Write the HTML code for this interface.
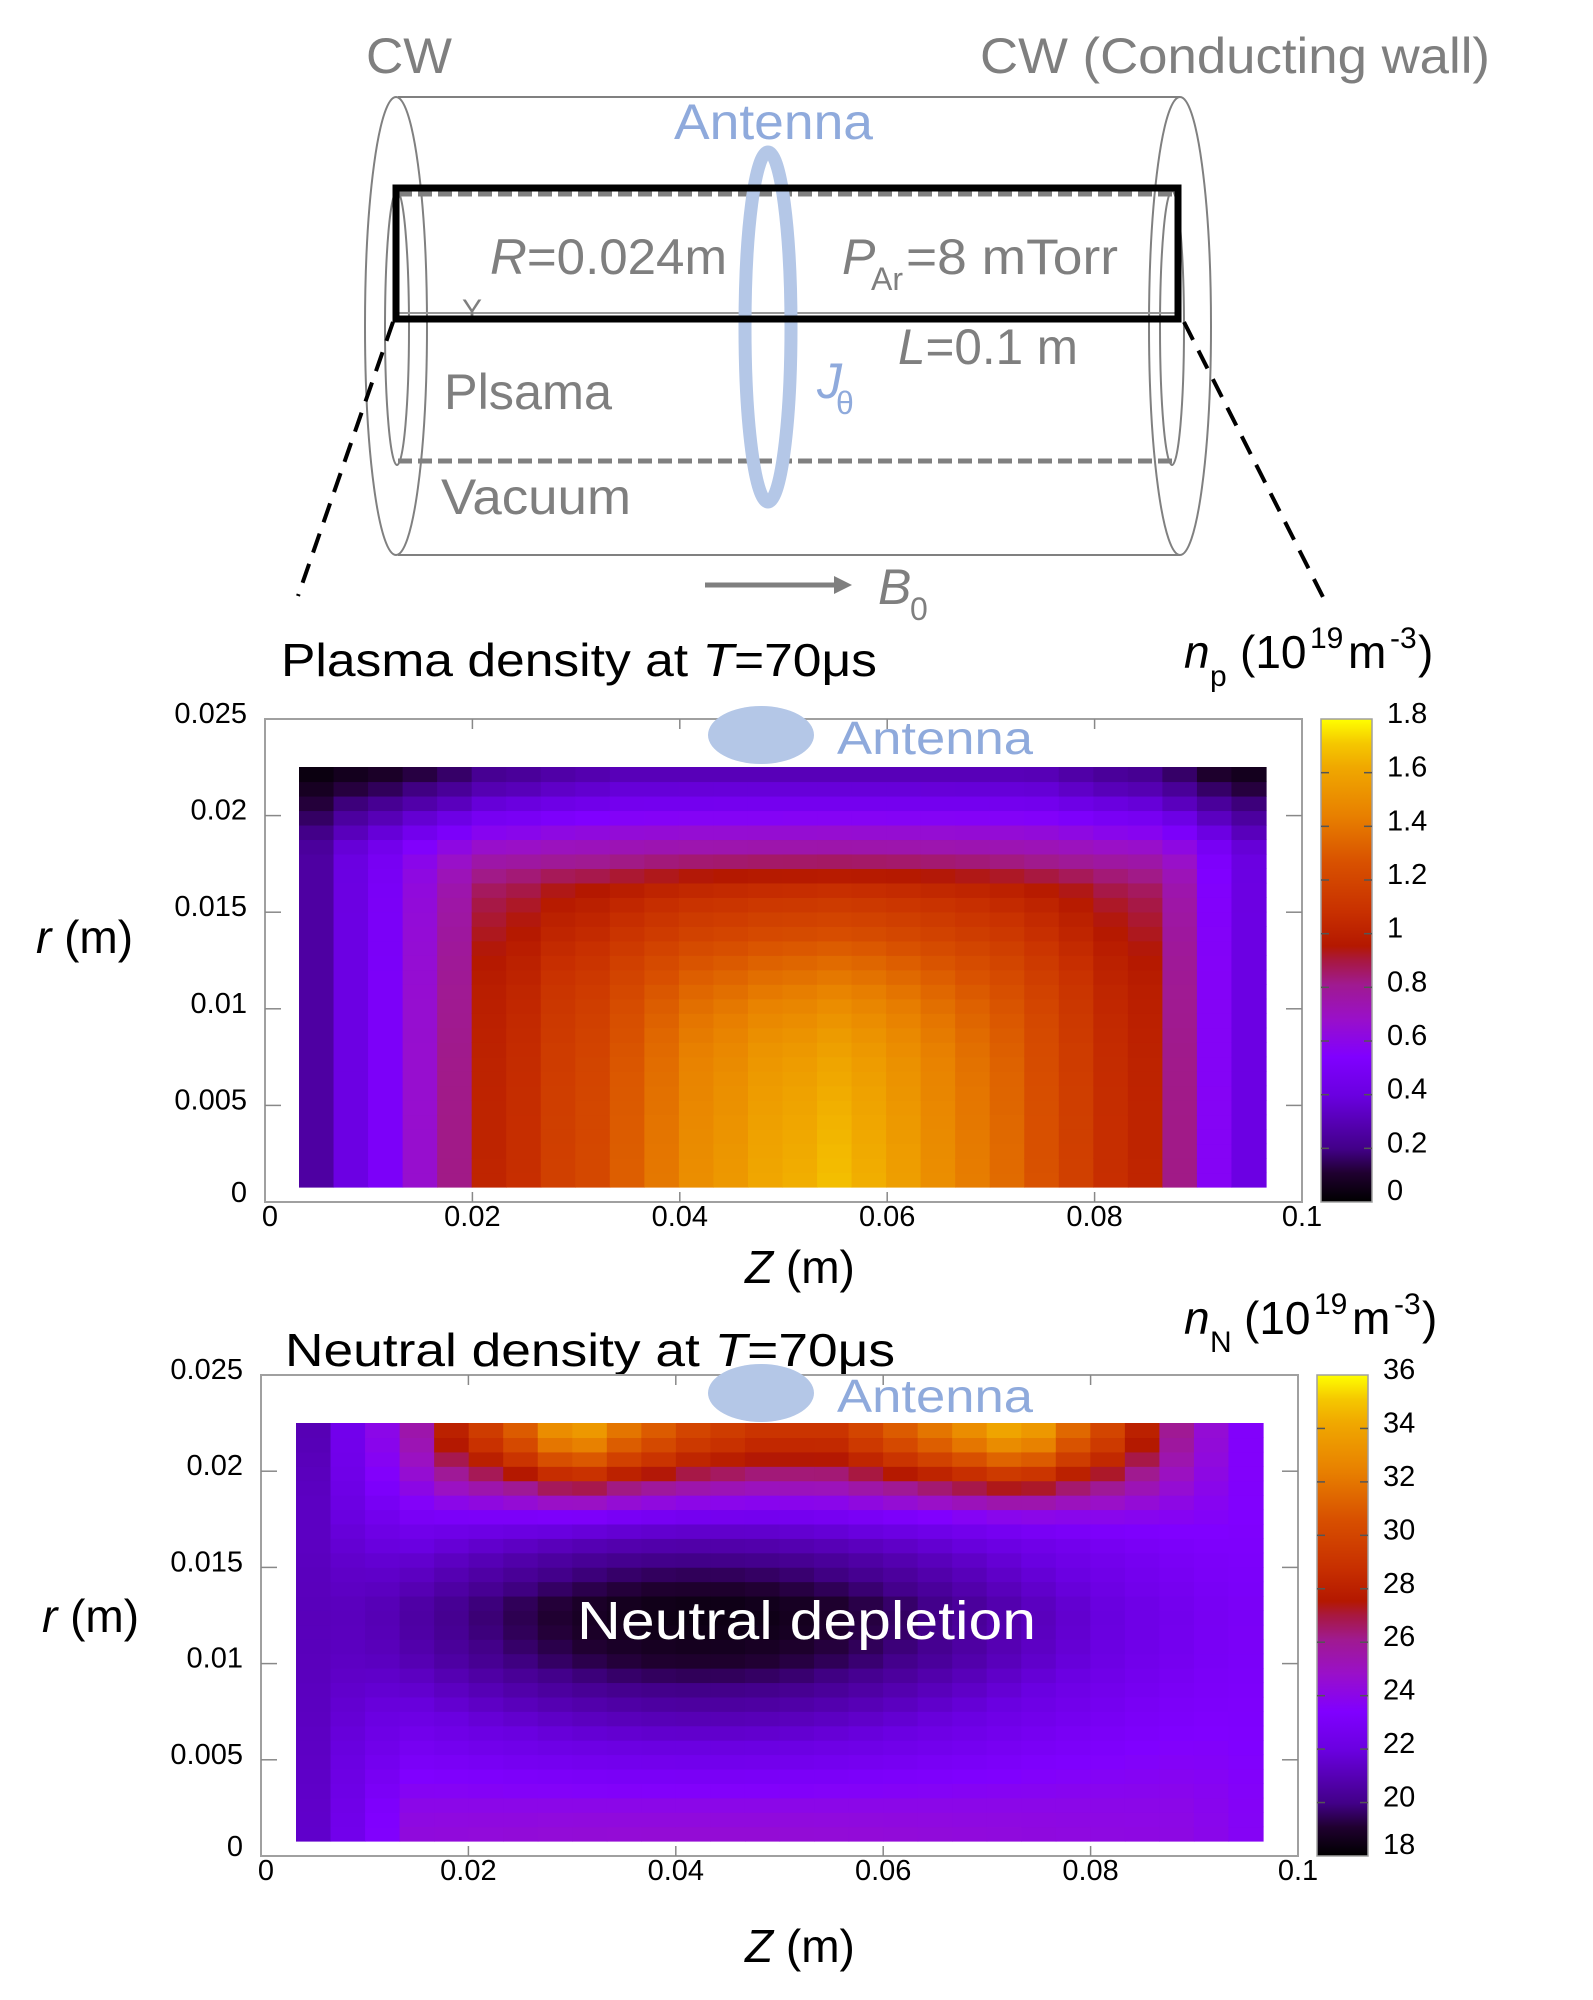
<!DOCTYPE html>
<html><head><meta charset="utf-8">
<style>
html,body{margin:0;padding:0;background:#fff;}
svg{display:block;}
text{font-family:"Liberation Sans","DejaVu Sans",sans-serif;}
</style></head>
<body>
<svg id="s" width="1593" height="2000" viewBox="0 0 1593 2000" xmlns="http://www.w3.org/2000/svg">
<defs>
<linearGradient id="cb" x1="0" y1="1" x2="0" y2="0">
<stop offset="0" stop-color="#000000"/>
<stop offset="0.06" stop-color="#200030"/>
<stop offset="0.11" stop-color="#420088"/>
<stop offset="0.22" stop-color="#6a00e0"/>
<stop offset="0.30" stop-color="#8000ff"/>
<stop offset="0.38" stop-color="#9a10c8"/>
<stop offset="0.45" stop-color="#a01a90"/>
<stop offset="0.50" stop-color="#a81840"/>
<stop offset="0.53" stop-color="#b41800"/>
<stop offset="0.60" stop-color="#c83000"/>
<stop offset="0.70" stop-color="#d85000"/>
<stop offset="0.80" stop-color="#e88000"/>
<stop offset="0.90" stop-color="#f0a800"/>
<stop offset="0.95" stop-color="#f5c800"/>
<stop offset="1" stop-color="#ffff00"/>
</linearGradient>
</defs>
<!-- Top diagram -->
<g fill="#7f7f7f" font-size="50">
<text x="366" y="73" textLength="86" lengthAdjust="spacingAndGlyphs">CW</text>
<text x="980" y="73" textLength="510" lengthAdjust="spacingAndGlyphs">CW (Conducting wall)</text>
</g>
<g fill="none" stroke="#808080" stroke-width="2">
<line x1="398" y1="97" x2="1180" y2="97"/>
<line x1="398" y1="555" x2="1180" y2="555"/>
<ellipse cx="396" cy="326" rx="31" ry="229"/>
<ellipse cx="1180" cy="326" rx="31" ry="229"/>
<ellipse cx="397" cy="328" rx="12" ry="137"/>
<ellipse cx="1172" cy="328" rx="12" ry="137"/>
</g>
<g stroke="#808080" stroke-width="5" stroke-dasharray="14,6">
<line x1="398" y1="194" x2="1174" y2="194"/>
<line x1="398" y1="461" x2="1174" y2="461"/>
</g>
<line x1="398" y1="313" x2="1178" y2="313" stroke="#999" stroke-width="2"/>
<text x="462" y="320" fill="#7f7f7f" font-size="30">Y</text>
<ellipse cx="768" cy="327" rx="23" ry="175" fill="none" stroke="#b4c7e7" stroke-width="13"/>
<rect x="396" y="188" width="782" height="131" fill="none" stroke="#000" stroke-width="7"/>
<text x="674" y="139" fill="#8faadc" font-size="50" textLength="199" lengthAdjust="spacingAndGlyphs">Antenna</text>
<g fill="#7f7f7f" font-size="50">
<text x="490" y="274" textLength="237" lengthAdjust="spacingAndGlyphs"><tspan font-style="italic">R</tspan>=0.024m</text>
<text x="842" y="274" font-style="italic">P</text>
<text x="871" y="290" font-size="32">Ar</text>
<text x="906" y="274" textLength="212" lengthAdjust="spacingAndGlyphs">=8 mTorr</text>
<text x="898" y="364" textLength="180" lengthAdjust="spacingAndGlyphs"><tspan font-style="italic">L</tspan>=0.1 m</text>
<text x="444" y="409" textLength="168" lengthAdjust="spacingAndGlyphs">Plsama</text>
<text x="441" y="514" textLength="190" lengthAdjust="spacingAndGlyphs">Vacuum</text>
<text x="878" y="604" font-style="italic">B</text>
<text x="910" y="620" font-size="32">0</text>
</g>
<text x="817" y="398" fill="#8faadc" font-size="50" font-style="italic">J</text>
<text x="836" y="414" fill="#8faadc" font-size="32">θ</text>
<line x1="705" y1="585" x2="836" y2="585" stroke="#7f7f7f" stroke-width="5"/>
<polygon points="834,576 852,585 834,594" fill="#7f7f7f"/>
<g stroke="#000" stroke-width="4" stroke-dasharray="20,12">
<line x1="393" y1="322" x2="298" y2="596"/>
<line x1="1184" y1="322" x2="1326" y2="603"/>
</g>
<!-- Titles -->
<g fill="#000" font-size="46">
<text x="281" y="676" textLength="596" lengthAdjust="spacingAndGlyphs">Plasma density at <tspan font-style="italic">T</tspan>=70μs</text>
<text x="1184" y="668" font-style="italic">n</text>
<text x="1210" y="686" font-size="30">p</text>
<text x="1240" y="668">(10</text>
<text x="1310" y="648" font-size="30">19</text>
<text x="1348" y="668">m</text>
<text x="1390" y="648" font-size="30">-3</text>
<text x="1418" y="668">)</text>
<text x="285" y="1366" textLength="610" lengthAdjust="spacingAndGlyphs">Neutral density at <tspan font-style="italic">T</tspan>=70μs</text>
<text x="1184" y="1334" font-style="italic">n</text>
<text x="1210" y="1352" font-size="30">N</text>
<text x="1244" y="1334">(10</text>
<text x="1314" y="1314" font-size="30">19</text>
<text x="1352" y="1334">m</text>
<text x="1394" y="1314" font-size="30">-3</text>
<text x="1422" y="1334">)</text>
<text x="36" y="953"><tspan font-style="italic">r</tspan> (m)</text>
<text x="42" y="1632"><tspan font-style="italic">r</tspan> (m)</text>
<text x="745" y="1283"><tspan font-style="italic">Z</tspan> (m)</text>
<text x="745" y="1962"><tspan font-style="italic">Z</tspan> (m)</text>
</g>
<g id="p1"></g>
<g id="p2"></g>
</svg>
<script>
(function(){
var NS="http://www.w3.org/2000/svg";
function el(p,t,a,txt){var e=document.createElementNS(NS,t);for(var k in a)e.setAttribute(k,a[k]);if(txt!==undefined)e.textContent=txt;p.appendChild(e);return e;}
var stops=[[0,0,0,0],[0.06,32,0,48],[0.11,66,0,136],[0.22,106,0,224],[0.30,128,0,255],[0.38,154,16,200],[0.45,160,26,144],[0.50,168,24,64],[0.53,180,24,0],[0.60,200,48,0],[0.70,216,80,0],[0.80,232,128,0],[0.90,240,168,0],[0.95,245,200,0],[1,255,255,0]];
function cmap(t){t=Math.max(0,Math.min(1,t));for(var i=1;i<stops.length;i++){if(t<=stops[i][0]){var a=stops[i-1],b=stops[i],f=(t-a[0])/(b[0]-a[0]);return "rgb("+Math.round(a[1]+f*(b[1]-a[1]))+","+Math.round(a[2]+f*(b[2]-a[2]))+","+Math.round(a[3]+f*(b[3]-a[3]))+")";}}return "rgb(255,255,0)";}
var NC=28,NR=29;
function plot(g,bx,by,bw,bh,dx,dy,dw,dh,cbx,vals,vmin,vmax,cbl,antY){
 var cw=dw/NC,rh=dh/NR;
 el(g,"rect",{x:bx,y:by,width:bw,height:bh,fill:"#fff",stroke:"#a0a0a0","stroke-width":2});
 for(var c=0;c<NC;c++)for(var r=0;r<NR;r++){
  var v=vals(c,r);
  el(g,"rect",{x:(dx+c*cw).toFixed(2),y:(dy+dh-(r+1)*rh).toFixed(2),width:(cw+0.6).toFixed(2),height:(rh+0.6).toFixed(2),fill:cmap((v-vmin)/(vmax-vmin))});
 }
 for(var k=0;k<=5;k++){var x=bx+k*bw/5;
  if(k>0&&k<5){el(g,"line",{x1:x,y1:by+bh,x2:x,y2:by+bh-10,stroke:"#888","stroke-width":1.5});el(g,"line",{x1:x,y1:by,x2:x,y2:by+10,stroke:"#888","stroke-width":1.5});}
  var lab=["0","0.02","0.04","0.06","0.08","0.1"][k];
  el(g,"text",{x:x+(k==0?5:0),y:by+bh+24,"font-size":29,"text-anchor":"middle",fill:"#000"},lab);
  var y=by+bh-k*bh/5;
  if(k>0&&k<5){el(g,"line",{x1:bx,y1:y,x2:bx+16,y2:y,stroke:"#888","stroke-width":1.5});el(g,"line",{x1:bx+bw,y1:y,x2:bx+bw-16,y2:y,stroke:"#888","stroke-width":1.5});}
  var yl=["0","0.005","0.01","0.015","0.02","0.025"][k];
  el(g,"text",{x:bx-18,y:y+(k==0?0:4),"font-size":29,"text-anchor":"end",fill:"#000"},yl);
 }
 el(g,"rect",{x:cbx,y:by,width:51,height:bh,fill:"url(#cb)",stroke:"#a0a0a0","stroke-width":1.5});
 for(var k=0;k<cbl.length;k++){var y=by+bh-k*bh/(cbl.length-1);
  if(k>0&&k<cbl.length-1){el(g,"line",{x1:cbx,y1:y,x2:cbx+8,y2:y,stroke:"#555","stroke-width":1.5});el(g,"line",{x1:cbx+43,y1:y,x2:cbx+51,y2:y,stroke:"#555","stroke-width":1.5});}
  el(g,"text",{x:cbx+66,y:y+(k==0?-2:4),"font-size":29,fill:"#000"},cbl[k]);
 }
 el(g,"ellipse",{cx:761,cy:antY,rx:53,ry:29,fill:"#b4c7e7"});
 el(g,"text",{x:837,y:antY+19,"font-size":46,fill:"#8faadc",textLength:196,lengthAdjust:"spacingAndGlyphs"},"Antenna");
}
// plasma
var X=[0.25,0.4,0.5,0.65,0.8,1.0,1.05,1.15,1.2,1.3,1.4,1.5,1.55,1.62,1.65,1.7,1.65,1.58,1.5,1.42,1.35,1.25,1.15,1.05,1.0,0.8,0.55,0.4];
var Yp=[[0,3.5],[0.3,2.6],[0.5,1.8],[0.6,1.45],[0.7,1.2],[0.8,0.8],[0.87,0.6],[0.93,0.42],[1.0,0.27]];
function Yf(v){for(var i=1;i<Yp.length;i++){if(v<=Yp[i][0]){var a=Yp[i-1],b=Yp[i],f=(v-a[0])/(b[0]-a[0]);return a[1]+f*(b[1]-a[1]);}}return Yp[Yp.length-1][1];}
plot(document.getElementById("p1"),265,719,1037,483,299,767,967,420,1321,function(c,r){
 var v=(r+0.5)/NR;var a=X[c]*1.03,b=Yf(v);var k=3;
 var n=Math.pow(Math.pow(a,-k)+Math.pow(b,-k),-1/k);
 if(v>0.8){var t=(v-0.8)/0.2;var f=Math.min(1,Math.pow(a/1.3,1.5));n*=(1-t)+t*f;}
 return n;},0,1.8,["0","0.2","0.4","0.6","0.8","1","1.2","1.4","1.6","1.8"],735);
// neutral
var B=[24.5,24.3,24,23.5,23,22.5,22,21.5,21,20.5,20,19.5,19,18.7,18.5,18.4,18.5,19,19.5,20,20.7,21.3,22,22.5,22.8,23,23,23,23];
var T=[21,22.5,24,25.5,28,29.5,31,33,33.5,32,31,30,29.5,29,29,29,30,31,32,33,34,33.5,31.5,30,28,26,24.5,23.5];
var gd=[1,0.9,0.75,0.56,0.38,0.22,0.1,0.03];
plot(document.getElementById("p2"),261,1375,1037,481,296,1423,967,418,1317,function(c,r){
 var u=(c+0.5)/NC;var D=Math.exp(-Math.pow((u-0.42)/0.42,2));
 var E=c==0?0.15:c==1?0.45:c==2?0.75:c==27?0.6:c==26?0.85:1;
 var edge=c<14?21:23;
 var interior=24-(24-B[r])*D;
 var n=edge+(interior-edge)*E;
 var d=NR-1-r; var top=edge+(B[NR-1]*D+24*(1-D)-edge)*E;
 if(d<gd.length){n+=(T[c]-top)*gd[d];}
 return n;},18,36,["18","20","22","24","26","28","30","32","34","36"],1393);
var s=document.getElementById("s");
el(s,"text",{x:577,y:1639,"font-size":54,fill:"#fff",textLength:459,lengthAdjust:"spacingAndGlyphs"},"Neutral depletion");
})();
</script>
</body></html>
